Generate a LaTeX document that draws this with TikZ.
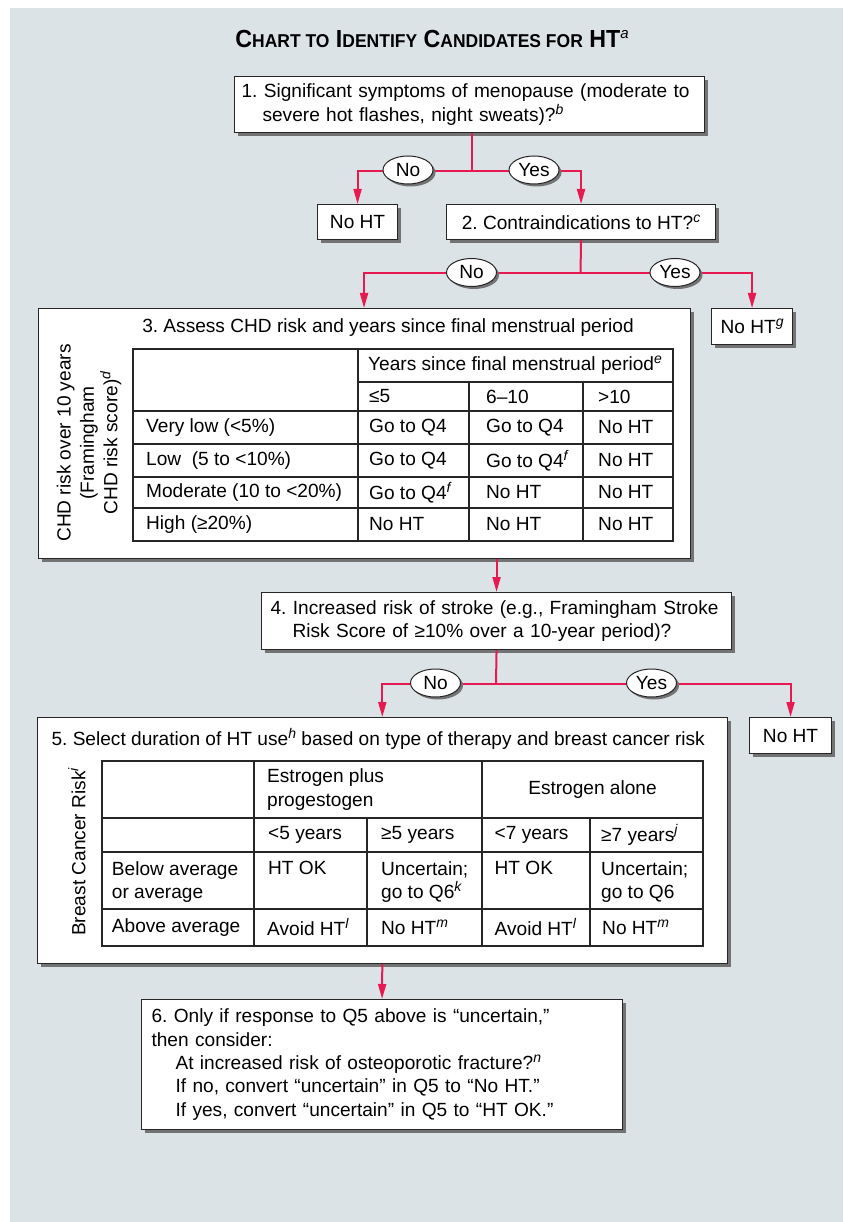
\documentclass[tikz,border=0pt]{standalone}
\usepackage{fontspec}
\setmainfont{Liberation Sans}
\usepackage{graphicx}
\usetikzlibrary{arrows.meta, positioning, calc, shapes.geometric, shadows}

\definecolor{htred}{RGB}{230,25,80}
\definecolor{htbg}{RGB}{220,227,231}
\newcommand\supit[1]{\raisebox{7pt}{\fontsize{14}{14}\selectfont\itshape #1}}
\newcommand\smcap[1]{{\fontsize{18.6}{20}\selectfont #1}}

\begin{document}
\frenchspacing
\begin{tikzpicture}[
  x=1pt, y=-1pt,
  font=\fontsize{19.1}{23.4}\selectfont,
  bx/.style={draw=black!85, line width=1.1pt, fill=white, inner xsep=7pt, inner ysep=3pt,
             anchor=north west,
             drop shadow={shadow xshift=3.5pt, shadow yshift=-3.5pt, fill=black!55, opacity=1}},
  yn/.style={ellipse, draw=black!85, line width=1pt, fill=white, minimum width=50pt,
             minimum height=28pt, inner sep=0pt,
             drop shadow={shadow xshift=2.5pt, shadow yshift=-2.5pt, fill=black!55, opacity=1}},
  ln/.style={htred, line width=2pt},
  ar/.style={ln, -{Triangle[length=15pt, width=8pt]}},
  grid/.style={draw=black!85, line width=1.1pt},
  cell/.style={anchor=west, inner sep=0pt},
]
\useasboundingbox (0,0) rectangle (843,1222);
\fill[htbg] (10,8) rectangle (843,1222);

\node[anchor=base] (title) at (432,48)
  {\scalebox{0.94}[1]{\bfseries\fontsize{24.7}{28}\selectfont
   C\smcap{HART TO} I\smcap{DENTIFY} C\smcap{ANDIDATES FOR} HT}\raisebox{9pt}{\fontsize{15}{15}\selectfont\itshape a}};

% questions and outcomes
\node[bx, text width=456pt, minimum height=56pt, align=left] (q1) at (234,76)
  {1. Significant symptoms of menopause (moderate to\\
   \hspace*{21pt}severe hot flashes, night sweats)?\supit{b}};
\node[bx, minimum width=80pt, minimum height=35pt] (nht1) at (317,204) {No HT};
\node[bx, minimum width=269pt, minimum height=35pt] (q2) at (446,204)
  {2. Contraindications to HT?\supit{c}};
\node[bx, minimum width=81pt, minimum height=36pt] (nht2) at (711,308) {No HT\supit{g}};
\node[bx, minimum width=652pt, minimum height=250pt] (q3) at (37.5,308) {};
\node[bx, text width=458pt, inner xsep=6pt, minimum height=57pt, align=left] (q4) at (261,592)
  {\hspace*{3pt}4. Increased risk of stroke (e.g., Framingham Stroke\\
   \hspace*{25pt}Risk Score of ≥10\% over a 10-year period)?};
\node[bx, minimum width=82pt, minimum height=36pt] (nht3) at (749,717) {No HT};
\node[bx, minimum width=690.5pt, minimum height=246pt] (q5) at (36.5,717) {};
\node[bx, text width=461pt, inner xsep=10pt, minimum height=130pt, align=left] (q6) at (141,999)
  {6. Only if response to Q5 above is “uncertain,”\\
   then consider:\\
   \hspace*{24pt}At increased risk of osteoporotic fracture?\supit{n}\\
   \hspace*{24pt}If no, convert “uncertain” in Q5 to “No HT.”\\
   \hspace*{24pt}If yes, convert “uncertain” in Q5 to “HT OK.”};

% table of question 3
\node[anchor=base] (q3t) at (388,332)
  {3. Assess CHD risk and years since final menstrual period};
\node[rotate=90, align=center] (chd) at (89,443)
  {CHD risk over 10 years\\(Framingham\\CHD risk score)\supit{d}};
\draw[grid] (133,349) rectangle (673,541);
\draw[grid] (358,349) -- (358,541) (469,382) -- (469,541) (583,382) -- (583,541);
\draw[grid] (358,382) -- (673,382);
\foreach \yy in {411,444,477,508} \draw[grid] (133,\yy) -- (673,\yy);
\node[cell] (yrs) at (368,365.5) {Years since final menstrual period\supit{e}};
\node[cell] (h3-1) at (369,396.5) {≤5};
\node[cell] (h3-2) at (486,396.5) {6–10};
\node[cell] (h3-3) at (598,396.5) {>10};
\foreach \yy/\ra/\rb/\rc/\rd [count=\i] in {
    427.5/Very low (<5\%)/Go to Q4/Go to Q4/No HT,
    460.5/Low~~(5 to <10\%)/Go to Q4/Go to Q4\supit{f}/No HT,
    492.5/Moderate (10 to <20\%)/Go to Q4\supit{f}/No HT/No HT,
    524.5/High (≥20\%)/No HT/No HT/No HT} {
  \node[cell] (t3-\i-1) at (146,\yy) {\ra};
  \node[cell] (t3-\i-2) at (369,\yy) {\rb};
  \node[cell] (t3-\i-3) at (486,\yy) {\rc};
  \node[cell] (t3-\i-4) at (598,\yy) {\rd};
}

% table of question 5
\node[anchor=base west] (q5t) at (48,745)
  {5. Select duration of HT use\supit{h} based on type of therapy and breast cancer risk};
\node[rotate=90] (bcr) at (77,852) {Breast Cancer Risk\supit{i}};
\draw[grid] (102,761) rectangle (703,946);
\foreach \yy in {818,852,909} \draw[grid] (102,\yy) -- (703,\yy);
\draw[grid] (254,761) -- (254,946) (482,761) -- (482,946);
\draw[grid] (367,818) -- (367,946) (590,818) -- (590,946);
\node[cell, align=left] (epp) at (267,789.5) {Estrogen plus\\progestogen};
\node (ea) at (592.5,789.5) {Estrogen alone};
\foreach \xx/\txt [count=\j] in {268/<5 years, 381/≥5 years, 494.5/<7 years, 601/≥7 years\supit{j}}
  \node[cell] (d5-\j) at (\xx,835) {\txt};
\node[cell, anchor=north west, align=left] (r5-1) at (111.7,861) {Below average\\or average};
\node[cell, anchor=north west] (r5-2) at (268,861) {HT OK};
\node[cell, anchor=north west, align=left] (r5-3) at (381,861) {Uncertain;\\go to Q6\supit{k}};
\node[cell, anchor=north west] (r5-4) at (494.5,861) {HT OK};
\node[cell, anchor=north west, align=left] (r5-5) at (601,861) {Uncertain;\\go to Q6};
\foreach \xx/\txt [count=\j] in {111.7/Above average, 267/Avoid HT\supit{l}, 381/No HT\supit{m},
                                 494.5/Avoid HT\supit{l}, 602/No HT\supit{m}}
  \node[cell] (s5-\j) at (\xx,927.5) {\txt};

% connectors
\coordinate (j1) at (471.5,171);
\coordinate (j2) at (580.5,273.5);
\coordinate (j4) at (496,683.5);
\draw[ln] (q1.south -| j1) -- (j1);
\draw[ar] (j1) -| (nht1.north);
\draw[ar] (j1) -| (q2.north);
\draw[ln] (q2.south) -- (j2);
\draw[ar] (j2) -| (q3.north);
\draw[ar] (j2) -| (nht2.north);
\draw[ar] (q3.south -| q4.north) -- (q4.north);
\draw[ln] (q4.south) -- (j4);
\draw[ar] (j4) -| (q5.north);
\draw[ar] (j4) -| (nht3.north);
\draw[ar] (q5.south) -- (q6.north);

\node[yn] (no1) at (408,170) {No};
\node[yn] (yes1) at (534,170) {Yes};
\node[yn] (no2) at (471.5,272.5) {No};
\node[yn] (yes2) at (675,272.5) {Yes};
\node[yn] (no4) at (435.5,683) {No};
\node[yn] (yes4) at (651.5,683) {Yes};
\end{tikzpicture}
\end{document}
